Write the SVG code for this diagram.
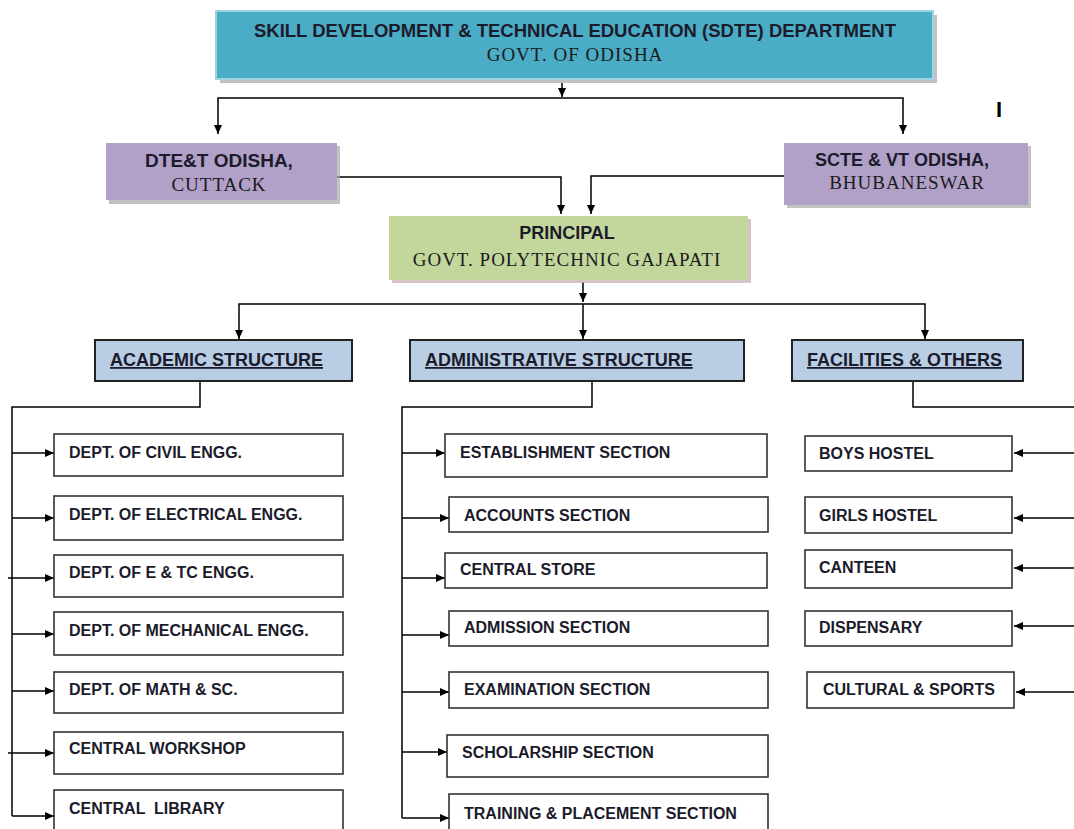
<svg xmlns="http://www.w3.org/2000/svg" width="1074" height="829" viewBox="0 0 1074 829">
<defs>
<marker id="ah" markerUnits="userSpaceOnUse" markerWidth="9" markerHeight="8" refX="9" refY="4" orient="auto">
<path d="M0,0 L9,4 L0,8 z" fill="#000"/>
</marker>
<style>
.conn{fill:none;stroke:#000;stroke-width:1.5}
.arr{fill:none;stroke:#000;stroke-width:1.5;marker-end:url(#ah)}
.box{fill:#fff;stroke:#333;stroke-width:1.6}
.hdr{fill:#B9CDE5;stroke:#222;stroke-width:2}
.sh{fill:#a8a8a8;opacity:.7}
.t{font-family:"Liberation Sans",Arial,sans-serif;font-weight:bold;font-size:16px;fill:#1b1b2b}
.b{font-family:"Liberation Sans",Arial,sans-serif;font-weight:bold;font-size:18px;fill:#1b1b2b;text-anchor:middle}
.h{font-family:"Liberation Sans",Arial,sans-serif;font-weight:bold;font-size:18px;fill:#1b1b2b;text-decoration:underline}
.s{font-family:"Liberation Serif","Times New Roman",serif;font-size:19px;letter-spacing:1px;fill:#1b1b1b;text-anchor:middle}
</style>
</defs>
<rect width="1074" height="829" fill="#fff"/>

<g id="connectors">
<path class="arr" d="M562,83 V97"/>
<path class="arr" d="M562,98 H218 V134"/>
<path class="arr" d="M562,98 H903 V134"/>
<path class="arr" d="M337,177 H561 V214"/>
<path class="arr" d="M784,176 H591 V214"/>
<path class="arr" d="M583,282 V302"/>
<path class="arr" d="M583,304 H239 V339"/>
<path class="arr" d="M583,304 V339"/>
<path class="arr" d="M583,304 H925 V339"/>
<path class="conn" d="M200,381 V407 H12 V816"/>
<path class="arr" d="M12,453 H54"/>
<path class="arr" d="M12,518 H54"/>
<path class="arr" d="M8,578 H54"/>
<path class="arr" d="M12,634 H54"/>
<path class="arr" d="M12,691 H54"/>
<path class="arr" d="M8,753 H54"/>
<path class="arr" d="M12,816 H54"/>
<path class="conn" d="M592,381 V407 H402 V818"/>
<path class="arr" d="M402,453 H445"/>
<path class="arr" d="M402,518 H449"/>
<path class="arr" d="M402,578 H445"/>
<path class="arr" d="M402,635 H449"/>
<path class="arr" d="M402,692 H449"/>
<path class="arr" d="M402,752 H447"/>
<path class="arr" d="M402,818 H449"/>
<path class="conn" d="M913,381 V407 H1074"/>
<path class="arr" d="M1074,453 H1014"/>
<path class="arr" d="M1074,518 H1014"/>
<path class="arr" d="M1074,568 H1014"/>
<path class="arr" d="M1074,626 H1014"/>
<path class="arr" d="M1074,692 H1016"/>
</g>

<g id="sdte">
<rect class="sh" x="220" y="15" width="717" height="68"/>
<rect x="216" y="11" width="717" height="68" fill="#4BACC6" stroke="#9ed3e1" stroke-width="2"/>
<text class="b" x="575" y="37" style="font-size:18.5px">SKILL DEVELOPMENT &amp; TECHNICAL EDUCATION (SDTE) DEPARTMENT</text>
<text class="s" x="575" y="61">GOVT. OF ODISHA</text>
</g>

<text id="mark" x="999" y="117" style="font-family:'Liberation Sans',Arial,sans-serif;font-weight:bold;font-size:22px;text-anchor:middle;fill:#000">I</text>

<g id="dte">
<rect class="sh" x="109" y="146" width="231" height="58"/>
<rect x="106" y="143" width="231" height="57" fill="#B1A0C7"/>
<text class="b" x="219" y="167" style="font-size:19px">DTE&amp;T ODISHA,</text>
<text class="s" x="219" y="191">CUTTACK</text>
</g>

<g id="scte">
<rect class="sh" x="787" y="146" width="244" height="62"/>
<rect x="784" y="143" width="244" height="62" fill="#B1A0C7"/>
<text class="b" x="902" y="166">SCTE &amp; VT ODISHA,</text>
<text class="s" x="907" y="189">BHUBANESWAR</text>
</g>

<g id="principal">
<rect x="392" y="219" width="359" height="64" fill="#c4a9a9" opacity=".7"/>
<rect x="389" y="216" width="359" height="64" fill="#C3D69B"/>
<text class="b" x="567" y="239">PRINCIPAL</text>
<text class="s" x="567" y="266">GOVT. POLYTECHNIC GAJAPATI</text>
</g>

<g id="academic">
<rect class="hdr" x="95" y="340" width="257" height="41"/>
<text class="h" x="110" y="366">ACADEMIC STRUCTURE</text>
</g>
<g id="administrative">
<rect class="hdr" x="410" y="340" width="334" height="41"/>
<text class="h" x="425" y="366">ADMINISTRATIVE STRUCTURE</text>
</g>
<g id="facilities">
<rect class="hdr" x="792" y="340" width="231" height="41"/>
<text class="h" x="807" y="366">FACILITIES &amp; OTHERS</text>
</g>

<g id="civil"><rect class="box" x="54" y="434" width="289" height="42"/><text class="t" x="69" y="458">DEPT. OF CIVIL ENGG.</text></g>
<g id="electrical"><rect class="box" x="54" y="496" width="289" height="44"/><text class="t" x="69" y="520">DEPT. OF ELECTRICAL ENGG.</text></g>
<g id="etc"><rect class="box" x="54" y="555" width="289" height="42"/><text class="t" x="69" y="578">DEPT. OF E &amp; TC ENGG.</text></g>
<g id="mechanical"><rect class="box" x="54" y="612" width="289" height="43"/><text class="t" x="69" y="636">DEPT. OF MECHANICAL ENGG.</text></g>
<g id="math"><rect class="box" x="54" y="672" width="289" height="41"/><text class="t" x="69" y="695">DEPT. OF MATH &amp; SC.</text></g>
<g id="workshop"><rect class="box" x="54" y="732" width="289" height="42"/><text class="t" x="69" y="754">CENTRAL WORKSHOP</text></g>
<g id="library"><rect class="box" x="54" y="790" width="289" height="50"/><text class="t" x="69" y="814" xml:space="preserve">CENTRAL  LIBRARY</text></g>

<g id="establishment"><rect class="box" x="445" y="434" width="322" height="43"/><text class="t" x="460" y="458">ESTABLISHMENT SECTION</text></g>
<g id="accounts"><rect class="box" x="449" y="497" width="319" height="35"/><text class="t" x="464" y="521">ACCOUNTS SECTION</text></g>
<g id="store"><rect class="box" x="445" y="553" width="322" height="35"/><text class="t" x="460" y="575">CENTRAL STORE</text></g>
<g id="admission"><rect class="box" x="449" y="611" width="319" height="35"/><text class="t" x="464" y="633">ADMISSION SECTION</text></g>
<g id="examination"><rect class="box" x="449" y="672" width="319" height="36"/><text class="t" x="464" y="695">EXAMINATION SECTION</text></g>
<g id="scholarship"><rect class="box" x="447" y="735" width="321" height="42"/><text class="t" x="462" y="758">SCHOLARSHIP SECTION</text></g>
<g id="training"><rect class="box" x="449" y="794" width="319" height="50"/><text class="t" x="464" y="819">TRAINING &amp; PLACEMENT SECTION</text></g>

<g id="boys"><rect class="box" x="805" y="436" width="207" height="35"/><text class="t" x="819" y="459">BOYS HOSTEL</text></g>
<g id="girls"><rect class="box" x="805" y="497" width="207" height="36"/><text class="t" x="819" y="521">GIRLS HOSTEL</text></g>
<g id="canteen"><rect class="box" x="805" y="550" width="207" height="38"/><text class="t" x="819" y="573">CANTEEN</text></g>
<g id="dispensary"><rect class="box" x="805" y="611" width="207" height="35"/><text class="t" x="819" y="633">DISPENSARY</text></g>
<g id="cultural"><rect class="box" x="807" y="672" width="207" height="36"/><text class="t" x="823" y="695">CULTURAL &amp; SPORTS</text></g>
</svg>
